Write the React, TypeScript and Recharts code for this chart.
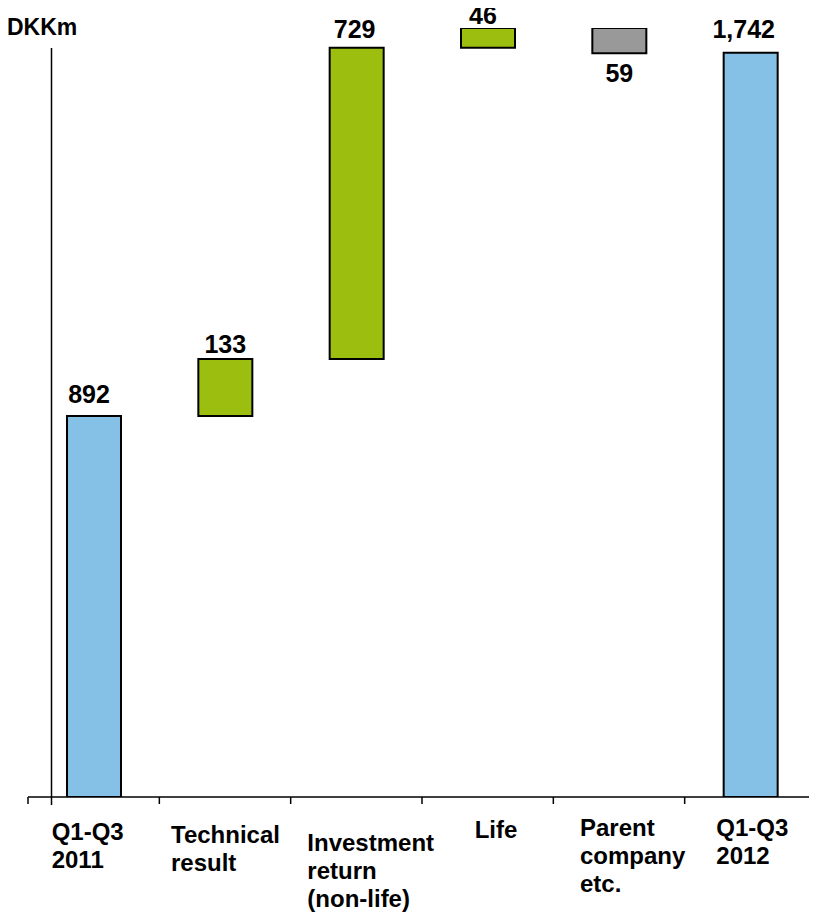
import React from 'react';
import { BarChart, Bar, XAxis, YAxis, ReferenceLine, LabelList, Cell } from 'recharts';

// Profit bridge, DKKm
const categories = [
  'Q1-Q3 2011',
  'Technical result',
  'Investment return (non-life)',
  'Life',
  'Parent company etc.',
  'Q1-Q3 2012',
];
const categoryLines = [
  ['Q1-Q3', '2011'],
  ['Technical', 'result'],
  ['Investment', 'return', '(non-life)'],
  ['Life'],
  ['Parent', 'company', 'etc.'],
  ['Q1-Q3', '2012'],
];
const amounts = [892, 133, 729, 46, -59, 1742];
const isTotal = [true, false, false, false, false, true];

// chart geometry
const WIDTH = 817;
const HEIGHT = 916;
const MARGIN = { top: 28, right: 1, bottom: 0, left: 28 };
const BAND = (WIDTH - MARGIN.left - MARGIN.right) / categories.length;

// layout tweaks for text placement
const tickDx = [-42, -54, -49, -13, -39, -34];
const tickBaseline = [43, 46, 54, 41, 39, 39];
const labelGap = [13, 6, 10, 4, 29, 15];
const labelDx = [-5, 0, -2, -5, 0, -7];

const FONT = '"Liberation Sans", Arial, sans-serif';
const COLORS = { total: '#85C1E6', up: '#9BBE0F', down: '#999999' };

type Row = { name: string; base: number; span: number; amount: number; kind: 'total' | 'up' | 'down' };

let running = 0;
const rows: Row[] = categories.map((name, i) => {
  const a = amounts[i];
  if (isTotal[i]) {
    running = a;
    return { name, base: 0, span: a, amount: a, kind: 'total' };
  }
  const start = running;
  running += a;
  return {
    name,
    base: Math.min(start, running),
    span: Math.abs(a),
    amount: a,
    kind: a >= 0 ? 'up' : 'down',
  };
});

// Category label plus boundary tick marks between the bands
const CategoryTick = (props: any) => {
  const { x, y, payload } = props;
  const i = payload.index;
  const lines = categoryLines[i] || [];
  const left = x - BAND / 2;
  const right = x + BAND / 2;
  return (
    <g>
      <line x1={left} x2={left} y1={y} y2={y + 7} stroke="#000" strokeWidth={1.5} />
      {i === categories.length - 1 && (
        <line x1={right - 1} x2={right - 1} y1={y} y2={y + 7} stroke="#000" strokeWidth={1.5} />
      )}
      {lines.map((ln, k) => (
        <text
          key={k}
          x={x + tickDx[i]}
          y={y + tickBaseline[i] + k * 28}
          textAnchor="start"
          fontFamily={FONT}
          fontWeight="bold"
          fontSize={24}
          fill="#000"
        >
          {ln}
        </text>
      ))}
    </g>
  );
};

const ValueLabel = (props: any) => {
  const { x, y, width, height, index } = props;
  const row = rows[index];
  const text = Math.abs(row.amount).toLocaleString('en-US');
  const cx = x + width / 2 + labelDx[index];
  const ty = row.kind === 'down' ? y + height + labelGap[index] : y - labelGap[index];
  return (
    <text x={cx} y={ty} textAnchor="middle" fontFamily={FONT} fontWeight="bold" fontSize={25} fill="#000">
      {text}
    </text>
  );
};

// Vertical value axis line, set a little inside the first band
const ValueAxisLine = (props: any) => {
  const { x1, y1, y2 } = props;
  const top = Math.min(y1, y2);
  const bottom = Math.max(y1, y2);
  const x = x1 + 23.5;
  return <line x1={x} x2={x} y1={top + 20} y2={bottom + 8} stroke="#000" strokeWidth={1.5} />;
};

export default function App() {
  return (
    <div style={{ position: 'relative', width: WIDTH, height: HEIGHT, marginLeft: -8, marginTop: -8 }}>
      <div
        style={{
          position: 'absolute',
          left: 7,
          top: 16,
          fontFamily: FONT,
          fontWeight: 'bold',
          fontSize: 23,
          lineHeight: '23px',
          color: '#000',
        }}
      >
        DKKm
      </div>
      <BarChart width={WIDTH} height={HEIGHT} data={rows} margin={MARGIN} barSize={54}>
        <XAxis
          dataKey="name"
          type="category"
          axisLine={{ stroke: '#000', strokeWidth: 1.5 }}
          tickLine={false}
          tickSize={0}
          tickMargin={0}
          interval={0}
          height={119}
          tick={<CategoryTick />}
        />
        <YAxis hide domain={[0, 1800]} allowDataOverflow />
        <Bar dataKey="base" stackId="w" fill="transparent" isAnimationActive={false} />
        <Bar dataKey="span" stackId="w" stroke="#000" strokeWidth={2} isAnimationActive={false}>
          {rows.map((r, i) => (
            <Cell key={i} fill={COLORS[r.kind]} />
          ))}
          <LabelList dataKey="amount" content={<ValueLabel />} />
        </Bar>
        <ReferenceLine x={categories[0]} position="start" shape={<ValueAxisLine />} ifOverflow="visible" />
      </BarChart>
    </div>
  );
}
